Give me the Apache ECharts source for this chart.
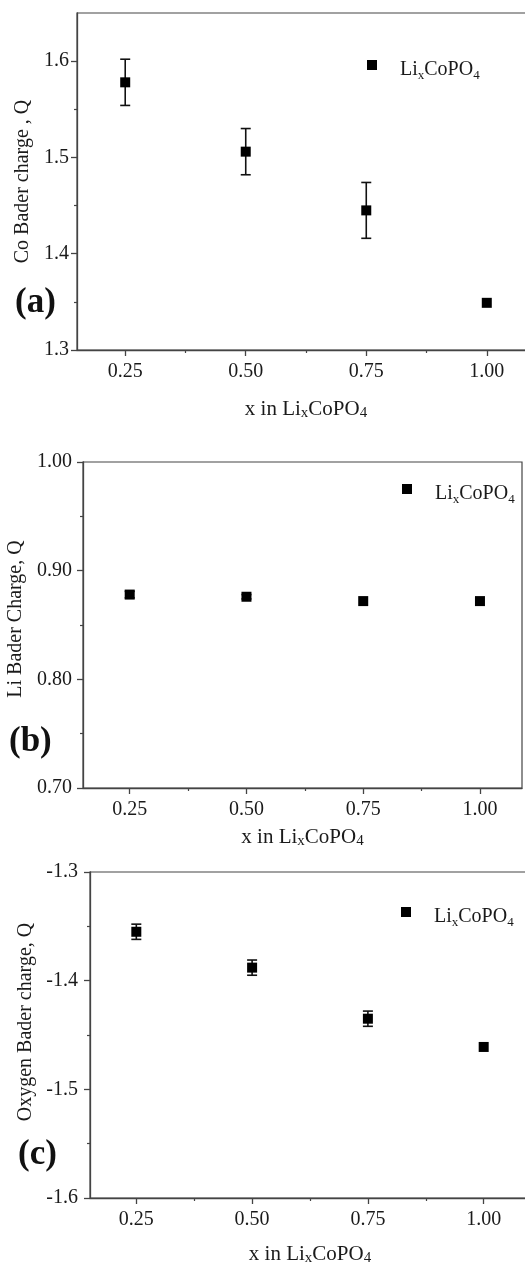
<!DOCTYPE html>
<html>
<head>
<meta charset="utf-8">
<script src="https://cdn.jsdelivr.net/npm/echarts@6/dist/echarts.min.js"></script>
<style>
html,body{margin:0;padding:0;background:#fff;}
#chart{width:525px;height:1262px;}
</style>
</head>
<body>
<div id="chart"></div>
<script>
// ---- data ----
const xValues = [0.25, 0.50, 0.75, 1.00];
const xTickValues = [0.25, 0.50, 0.75, 1.00];
const xMinorTicks = [0.375, 0.625, 0.875];

const coCharge = [1.578, 1.506, 1.445, 1.349];
const coError = [0.024, 0.024, 0.029, 0];
const coTicks = [1.3, 1.4, 1.5, 1.6];
const coMinor = [1.35, 1.45, 1.55];

const liCharge = [0.878, 0.876, 0.872, 0.872];
const liError = [0.003, 0.002, 0, 0];
const liTicks = [0.70, 0.80, 0.90, 1.00];
const liMinor = [0.75, 0.85, 0.95];

const oCharge = [-1.355, -1.388, -1.435, -1.461];
const oError = [0.007, 0.007, 0.007, 0];
const oTicks = [-1.6, -1.5, -1.4, -1.3];
const oMinor = [-1.55, -1.45, -1.35];

const yTitles = ['Co Bader charge , Q', 'Li Bader Charge, Q', 'Oxygen Bader charge, Q'];
const panelLabels = ['(a)', '(b)', '(c)'];
const seriesName = 'LixCoPO4';

// ---- layout / style ----
const FONT = '"Liberation Serif", "Times New Roman", serif';
const AXIS_COLOR = '#444';
const TEXT_COLOR = '#1a1a1a';

const panels = [
  {grid:{left:77, top:13, width:458, height:337}, xmin:0.15, xmax:1.1, ymin:1.3, ymax:1.65,
   ys:coCharge, err:coError, ticks:coTicks, minor:coMinor, dec:1, ylabMargin:8, yNameGap:37, yNameShift:0, xNameGap:47,
   legend:{left:367, top:60}, label:{x:15, y:305}},
  {grid:{left:83, top:462, width:439, height:326}, xmin:0.15, xmax:1.09, ymin:0.70, ymax:1.00,
   ys:liCharge, err:liError, ticks:liTicks, minor:liMinor, dec:2, ylabMargin:11, yNameGap:54, yNameShift:12, xNameGap:37,
   legend:{left:402, top:484}, label:{x:9, y:744}},
  {grid:{left:90, top:872, width:440, height:326}, xmin:0.15, xmax:1.1, ymin:-1.6, ymax:-1.3,
   ys:oCharge, err:oError, ticks:oTicks, minor:oMinor, dec:1, ylabMargin:12, yNameGap:40, yNameShift:26, xNameGap:44,
   legend:{left:401, top:907}, label:{x:18, y:1157}}
];

const grids = [], xAxes = [], yAxes = [], series = [], legends = [], graphics = [];

const xRich = {
  n: {fontFamily: FONT, fontSize: 21, lineHeight: 24, color: TEXT_COLOR},
  s: {fontFamily: FONT, fontSize: 15, lineHeight: 15, verticalAlign: 'bottom', color: TEXT_COLOR}
};
const legendRich = {
  n: {fontFamily: FONT, fontSize: 20, lineHeight: 24, color: TEXT_COLOR},
  s: {fontFamily: FONT, fontSize: 13, lineHeight: 13, verticalAlign: 'bottom', color: TEXT_COLOR}
};

panels.forEach((p, i) => {
  grids.push(Object.assign({show: true, borderColor: AXIS_COLOR, borderWidth: 1.2, backgroundColor: 'transparent',
    outerBoundsMode: 'none', containLabel: false}, p.grid));
  // main x axis
  xAxes.push({
    type: 'value', gridIndex: i, min: p.xmin, max: p.xmax,
    name: '{n|x in Li}{s|x}{n|CoPO}{s|4}', nameLocation: 'middle', nameGap: p.xNameGap,
    nameTextStyle: {rich: xRich},
    axisLine: {show: true, lineStyle: {color: AXIS_COLOR, width: 1.3}},
    axisTick: {show: true, customValues: xTickValues, length: 6, inside: false, lineStyle: {color: AXIS_COLOR, width: 1.3}},
    axisLabel: {show: true, customValues: xTickValues, margin: 12, fontFamily: FONT, fontSize: 20, color: TEXT_COLOR,
      formatter: v => Number(v).toFixed(2)},
    splitLine: {show: false}
  });
  // minor x ticks
  xAxes.push({
    type: 'value', gridIndex: i, min: p.xmin, max: p.xmax, position: 'bottom',
    axisLine: {show: false}, axisLabel: {show: false}, splitLine: {show: false},
    axisTick: {show: true, customValues: xMinorTicks, length: 3, lineStyle: {color: AXIS_COLOR, width: 1.2}}
  });
  // main y axis
  yAxes.push({
    type: 'value', gridIndex: i, min: p.ymin, max: p.ymax,
    name: yTitles[i], nameLocation: 'middle', nameGap: p.yNameGap,
    nameTextStyle: {fontFamily: FONT, fontSize: 20, color: TEXT_COLOR, padding: [0, 0, 0, p.yNameShift]},
    axisLine: {show: true, lineStyle: {color: AXIS_COLOR, width: 1.3}},
    axisTick: {show: true, customValues: p.ticks, length: 6, lineStyle: {color: AXIS_COLOR, width: 1.3}},
    axisLabel: {show: true, customValues: p.ticks, margin: p.ylabMargin, fontFamily: FONT, fontSize: 20, color: TEXT_COLOR,
      formatter: v => Number(v).toFixed(p.dec)},
    splitLine: {show: false}
  });
  // minor y ticks
  yAxes.push({
    type: 'value', gridIndex: i, min: p.ymin, max: p.ymax, position: 'left',
    axisLine: {show: false}, axisLabel: {show: false}, splitLine: {show: false},
    axisTick: {show: true, customValues: p.minor, length: 3, lineStyle: {color: AXIS_COLOR, width: 1.2}}
  });

  const name = seriesName + ' ' + panelLabels[i];
  series.push({
    type: 'custom', name: name + ' error', xAxisIndex: 2 * i, yAxisIndex: 2 * i,
    data: xValues.map((x, k) => [x, p.ys[k] - p.err[k], p.ys[k] + p.err[k]]),
    renderItem: (params, api) => {
      const lo = api.coord([api.value(0), api.value(1)]);
      const hi = api.coord([api.value(0), api.value(2)]);
      if (Math.abs(hi[1] - lo[1]) < 0.5) return null;
      const cap = 5;
      const st = {stroke: '#111', lineWidth: 1.6};
      return {type: 'group', children: [
        {type: 'line', shape: {x1: lo[0], y1: lo[1], x2: hi[0], y2: hi[1]}, style: st},
        {type: 'line', shape: {x1: lo[0] - cap, y1: lo[1], x2: lo[0] + cap, y2: lo[1]}, style: st},
        {type: 'line', shape: {x1: hi[0] - cap, y1: hi[1], x2: hi[0] + cap, y2: hi[1]}, style: st}
      ]};
    },
    z: 2, silent: true
  });
  series.push({
    type: 'scatter', name: name, xAxisIndex: 2 * i, yAxisIndex: 2 * i,
    symbol: 'rect', symbolSize: 10, itemStyle: {color: '#000', opacity: 1},
    data: xValues.map((x, k) => [x, p.ys[k]]), z: 3
  });
  legends.push({
    data: [name], left: p.legend.left, top: p.legend.top, padding: 0,
    icon: 'rect', itemWidth: 10, itemHeight: 10, selectedMode: false,
    itemStyle: {color: '#000', opacity: 1},
    formatter: () => '{n|Li}{s|x}{n|CoPO}{s|4}',
    textStyle: {rich: legendRich, padding: [10, 0, 0, 18]}
  });
  graphics.push({
    type: 'text', left: p.label.x, top: p.label.y - 20,
    style: {text: panelLabels[i], font: 'bold 35px ' + FONT, fill: '#111'}
  });
});

const chart = echarts.init(document.getElementById('chart'), null, {renderer: 'canvas'});
chart.setOption({
  animation: false,
  backgroundColor: '#fff',
  grid: grids, xAxis: xAxes, yAxis: yAxes, series: series,
  legend: legends, graphic: graphics
});
</script>
</body>
</html>
